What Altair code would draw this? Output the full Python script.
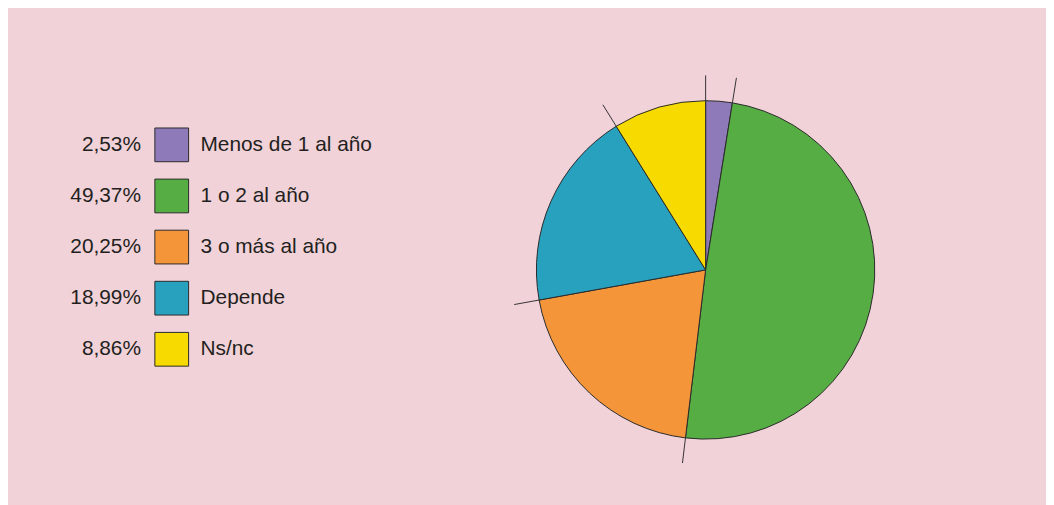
import altair as alt
import pandas as pd

categories = ["Menos de 1 al año", "1 o 2 al año", "3 o más al año", "Depende", "Ns/nc"]
values = [2.53, 49.37, 20.25, 18.99, 8.86]
pct_labels = ["2,53%", "49,37%", "20,25%", "18,99%", "8,86%"]
colors = ["#8e7ab8", "#56ad43", "#f5953a", "#28a1be", "#f6da00"]

df = pd.DataFrame({
    "cat": categories,
    "val": values,
    "pct": pct_labels,
    "order": list(range(len(categories))),
})
total = sum(values)
cum = [0.0]
for v in values[:-1]:
    cum.append(cum[-1] + v)
bdf = pd.DataFrame({"start": cum, "total": [total] * len(cum)})

CX, CY, R, RL = 703, 262, 170.5, 196

color_scale = alt.Scale(domain=categories, range=colors)
txt = "#231f20"

rules = alt.Chart(bdf).transform_calculate(
    x0=f"{CX}",
    y0=f"{CY}",
    x1=f"{CX} + {RL}*sin(2*PI*datum.start/datum.total)",
    y1=f"{CY} - {RL}*cos(2*PI*datum.start/datum.total)",
).mark_rule(color="#333333", strokeWidth=1).encode(
    x=alt.X("x0:Q", scale=None),
    x2="x1:Q",
    y=alt.Y("y0:Q", scale=None),
    y2="y1:Q",
)

pie = alt.Chart(df).mark_arc(
    radius=R, stroke="#2a2a2a", strokeWidth=1
).encode(
    theta=alt.Theta("val:Q", stack=True),
    order=alt.Order("order:Q"),
    color=alt.Color("cat:N", scale=color_scale, legend=None),
    x=alt.value(CX),
    y=alt.value(CY),
)

ypos = alt.Y("cat:N", sort=categories,
             scale=alt.Scale(type="point", range=[136, 342], padding=0), axis=None)

squares = alt.Chart(df).mark_square(size=34 * 34, stroke="#2a2a2a", strokeWidth=1, opacity=1).encode(
    x=alt.value(165),
    y=ypos,
    color=alt.Color("cat:N", scale=color_scale, legend=None),
)
pcts = alt.Chart(df).mark_text(
    align="right", baseline="middle", font="Liberation Sans", fontSize=21, color=txt
).encode(x=alt.value(134), y=ypos, text="pct:N")
labels = alt.Chart(df).mark_text(
    align="left", baseline="middle", font="Liberation Sans", fontSize=21, color=txt
).encode(x=alt.value(194), y=ypos, text="cat:N")

chart = alt.layer(rules, pie, squares, pcts, labels).resolve_scale(
    x="independent", y="independent"
).properties(
    width=1046,
    height=497,
    padding=0,
    autosize=alt.AutoSizeParams(type="fit", contains="padding"),
    background="#f1d2d8",
).configure_view(stroke=None)

chart.save("out.html", embed_options={"renderer": "svg", "actions": False})
